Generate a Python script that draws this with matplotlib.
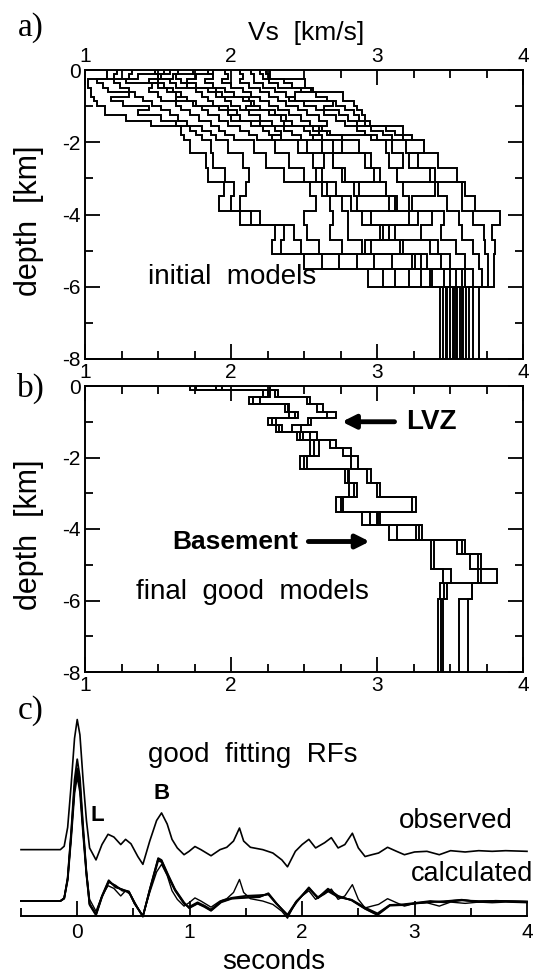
import numpy as np
import matplotlib
matplotlib.use("Agg")
import matplotlib.pyplot as plt
from matplotlib.ticker import MultipleLocator

plt.rcParams['font.family'] = ['Liberation Sans', 'DejaVu Sans']
plt.rcParams['axes.unicode_minus'] = False

# panel a: initial models, layer tops (km) shared by all models, last one = halfspace
depth_a = [0, 0.12, 0.25, 0.37, 0.5, 0.62, 0.75, 0.87, 1.0, 1.12, 1.25, 1.4, 1.55,
           1.7, 1.8, 1.95, 2.3, 2.7, 3.1, 3.5, 3.9, 4.3, 4.7, 5.1, 5.5, 6.0]
init_01 = [1.15, 1.15, 1.02, 1.02, 1.04, 1.04, 1.06, 1.08, 1.14, 1.14, 1.28, 1.45, 1.66, 1.66, 1.68, 1.72, 1.83, 1.84, 1.95, 1.92, 2.06, 2.30, 2.28, 2.50, 2.94, 3.43]
init_02 = [1.22, 1.20, 1.08, 1.12, 1.16, 1.30, 1.18, 1.26, 1.44, 1.36, 1.52, 1.62, 1.72, 1.76, 1.80, 1.86, 1.88, 1.96, 2.02, 2.00, 2.14, 2.36, 2.34, 2.62, 3.04, 3.45]
init_03 = [1.32, 1.30, 1.20, 1.24, 1.30, 1.34, 1.40, 1.46, 1.52, 1.58, 1.64, 1.70, 1.80, 1.86, 1.90, 1.98, 2.08, 2.12, 2.10, 2.06, 2.20, 2.43, 2.48, 2.74, 3.12, 3.47]
init_04 = [1.64, 1.60, 1.50, 1.46, 1.44, 1.50, 1.52, 1.62, 1.66, 1.72, 1.78, 1.86, 1.92, 1.96, 2.02, 2.16, 2.24, 2.36, 2.54, 2.58, 2.50, 2.52, 2.60, 2.86, 3.22, 3.48]
init_05 = [1.54, 1.52, 1.44, 1.50, 1.56, 1.62, 1.70, 1.76, 1.80, 1.84, 1.92, 1.98, 2.06, 2.12, 2.18, 2.30, 2.40, 2.50, 2.62, 2.68, 2.70, 2.68, 2.76, 2.98, 3.30, 3.50]
init_06 = [1.48, 1.50, 1.58, 1.62, 1.76, 1.80, 1.84, 1.88, 1.92, 1.98, 2.06, 2.14, 2.22, 2.26, 2.34, 2.46, 2.56, 2.62, 2.72, 2.76, 2.80, 2.80, 2.90, 3.10, 3.38, 3.52]
init_07 = [1.74, 1.76, 1.70, 1.76, 1.84, 1.90, 1.96, 2.00, 2.06, 2.12, 2.20, 2.28, 2.36, 2.42, 2.48, 2.62, 2.70, 2.76, 2.84, 2.86, 2.90, 3.08, 2.92, 3.26, 3.36, 3.54]
init_08 = [1.84, 1.88, 1.82, 1.88, 1.96, 2.02, 2.08, 2.14, 2.20, 2.26, 2.34, 2.42, 2.50, 2.54, 2.62, 2.76, 2.70, 2.78, 3.06, 3.14, 2.96, 3.08, 3.18, 3.30, 3.50, 3.55]
init_09 = [1.96, 1.98, 1.94, 2.00, 2.08, 2.14, 2.20, 2.26, 2.32, 2.40, 2.48, 2.54, 2.62, 2.68, 2.76, 2.88, 2.96, 3.02, 3.06, 3.08, 3.28, 3.02, 3.16, 3.34, 3.54, 3.57]
init_10 = [2.06, 2.08, 2.06, 2.12, 2.20, 2.26, 2.32, 2.38, 2.46, 2.52, 2.60, 2.66, 2.60, 2.66, 2.96, 3.06, 3.08, 3.14, 3.18, 3.22, 3.38, 3.30, 3.42, 3.50, 3.60, 3.59]
init_11 = [2.14, 2.16, 2.16, 2.22, 2.30, 2.38, 2.44, 2.50, 2.58, 2.64, 2.72, 2.78, 2.86, 2.92, 3.00, 3.10, 3.18, 3.14, 3.40, 3.24, 3.46, 3.44, 3.54, 3.60, 3.66, 3.61]
init_12 = [2.20, 2.22, 2.26, 2.32, 2.56, 2.44, 2.40, 2.70, 2.64, 2.74, 2.80, 2.86, 2.96, 3.04, 3.10, 3.20, 3.28, 3.36, 3.42, 3.48, 3.56, 3.58, 3.66, 3.70, 3.72, 3.63]
init_13 = [2.24, 2.26, 2.36, 2.42, 2.48, 2.58, 2.66, 2.72, 2.78, 2.84, 2.88, 2.92, 3.06, 3.12, 3.18, 3.32, 3.22, 3.40, 3.58, 3.58, 3.66, 3.73, 3.74, 3.76, 3.76, 3.66]
init_14 = [2.27, 2.27, 2.51, 2.51, 2.55, 2.77, 2.77, 2.84, 2.86, 2.90, 2.92, 2.95, 3.18, 3.18, 3.24, 3.32, 3.42, 3.55, 3.60, 3.67, 3.84, 3.79, 3.81, 3.80, 3.80, 3.70]
init_15 = [1.88, 1.62, 1.66, 1.70, 1.90, 1.94, 2.12, 2.16, 2.10, 2.30, 2.38, 2.36, 2.56, 2.60, 2.56, 2.70, 2.92, 2.98, 2.88, 3.12, 3.22, 3.12, 3.36, 3.44, 3.58, 3.58]
init_16 = [1.58, 1.36, 1.28, 1.54, 1.60, 1.66, 1.62, 1.74, 1.98, 2.04, 2.00, 2.20, 2.30, 2.34, 2.28, 2.52, 2.64, 2.58, 2.66, 2.82, 2.96, 3.04, 2.96, 3.24, 3.46, 3.53]

# panel b: final good models
depth_b = [0, 0.11, 0.3, 0.5, 0.72, 0.9, 1.09, 1.28, 1.51, 1.74, 1.95, 2.32, 2.71,
           3.1, 3.52, 3.88, 4.32, 4.7, 5.12, 5.5, 5.95]
final_a = [1.72, 2.22, 2.12, 2.37, 2.40, 2.25, 2.31, 2.45, 2.54, 2.54, 2.47, 2.78, 2.81, 2.72, 2.90, 3.08, 3.37, 3.37, 3.45, 3.43, 3.42]
final_b = [1.76, 2.25, 2.15, 2.39, 2.44, 2.28, 2.33, 2.47, 2.57, 2.57, 2.50, 2.80, 2.84, 2.75, 2.95, 3.14, 3.39, 3.39, 3.51, 3.46, 3.44]
final_c = [1.90, 2.27, 2.20, 2.40, 2.46, 2.31, 2.35, 2.49, 2.60, 2.60, 2.52, 2.81, 2.86, 2.77, 3.00, 3.27, 3.55, 3.64, 3.69, 3.48, 3.45]
final_d = [1.94, 2.30, 2.52, 2.59, 2.66, 2.53, 2.42, 2.54, 2.68, 2.77, 2.82, 2.93, 3.00, 3.24, 3.01, 3.29, 3.58, 3.69, 3.71, 3.65, 3.56]
final_e = [2.27, 2.32, 2.54, 2.63, 2.72, 2.55, 2.48, 2.59, 2.72, 2.82, 2.87, 2.96, 3.02, 3.27, 3.02, 3.31, 3.60, 3.71, 3.82, 3.65, 3.62]

# panel c: receiver functions (time in s, amplitude normalised to the direct P peak)
obs_t = [-0.5, -0.15, -0.116, -0.085, -0.055, -0.024, 0.0, 0.024, 0.052, 0.082, 0.11,
         0.167, 0.22, 0.274, 0.326, 0.387, 0.43, 0.478, 0.539, 0.584, 0.645, 0.706,
         0.75, 0.80, 0.843, 0.89, 0.95, 0.995, 1.047, 1.10, 1.19, 1.27, 1.33, 1.39,
         1.443, 1.48, 1.54, 1.65, 1.74, 1.82, 1.87, 1.94, 2.0, 2.06, 2.12, 2.2, 2.26,
         2.32, 2.38, 2.447, 2.5, 2.56, 2.62, 2.68, 2.76, 2.84, 2.91, 3.0, 3.11, 3.22,
         3.32, 3.45, 3.57, 3.69, 3.81, 4.0]
obs_a = [0, 0, 0.026, 0.171, 0.487, 0.855, 1.0, 0.882, 0.539, 0.224, 0.013,
         -0.079, 0.039, 0.118, 0.097, 0.039, 0.079, 0.045, -0.053, -0.113, 0.066, 0.224,
         0.282, 0.197, 0.079, 0.013, -0.039, -0.013, 0.024, 0.0, -0.047, 0.0, 0.018, 0.066,
         0.166, 0.066, 0.018, 0.0, -0.026, -0.079, -0.132, -0.013, 0.039, 0.079, 0.013, 0.053, 0.092,
         0.013, 0.039, 0.126, 0.013, -0.053, -0.039, -0.026, 0.018, -0.013, -0.039, -0.018, -0.013, -0.039,
         -0.008, -0.018, -0.008, -0.013, -0.008, -0.013]

calc_t = [-0.5, -0.15, -0.116, -0.085, -0.055, -0.024, 0.0, 0.024, 0.052, 0.082, 0.11,
          0.167, 0.22, 0.28, 0.34, 0.40, 0.46, 0.51, 0.584, 0.645, 0.72, 0.75, 0.81,
          0.87, 0.95, 0.995, 1.07, 1.13, 1.19, 1.28, 1.375, 1.5, 1.62, 1.7, 1.77, 1.87,
          1.95, 2.06, 2.14, 2.23, 2.32, 2.44, 2.56, 2.67, 2.78, 2.9, 3.0, 3.14, 3.26,
          3.42, 3.57, 3.72, 4.0]
calc_1 = [0, 0, 0.02, 0.18, 0.52, 0.93, 1.09, 0.95, 0.58, 0.22, -0.02,
          -0.103, 0.034, 0.153, 0.113, 0.087, 0.074, -0.018, -0.118, 0.087, 0.324, 0.31, 0.192,
          0.087, -0.018, -0.05, -0.018, -0.04, -0.071, -0.005, 0.021, 0.029, 0.034, 0.055, -0.018, -0.11,
          -0.005, 0.1, 0.021, 0.087, 0.034, 0.008, -0.058, -0.103, -0.032, -0.032, -0.018, -0.005, -0.005,
          0.008, -0.005, 0.0, -0.005]
calc_2 = [0, 0, 0.02, 0.16, 0.47, 0.83, 0.96, 0.84, 0.52, 0.20, -0.03,
          -0.11, 0.03, 0.145, 0.12, 0.08, 0.07, -0.02, -0.115, 0.08, 0.31, 0.30, 0.185,
          0.08, -0.02, -0.045, -0.01, -0.035, -0.065, 0.0, 0.025, 0.04, 0.045, 0.05, -0.02, -0.105,
          0.0, 0.095, 0.03, 0.075, 0.03, 0.01, -0.05, -0.095, -0.03, -0.025, -0.015, 0.0, -0.01,
          0.005, 0.0, 0.0, -0.005]
calc_3 = [0, 0, 0.02, 0.17, 0.5, 0.88, 1.02, 0.9, 0.55, 0.21, -0.025,
          -0.1, 0.04, 0.16, 0.105, 0.09, 0.068, -0.015, -0.12, 0.09, 0.33, 0.315, 0.2,
          0.09, -0.01, -0.055, -0.02, -0.045, -0.075, -0.01, 0.018, 0.025, 0.03, 0.06, -0.015, -0.112,
          -0.01, 0.105, 0.025, 0.095, 0.04, 0.005, -0.06, -0.108, -0.035, -0.03, -0.02, -0.008, -0.002,
          0.01, -0.008, 0.002, -0.005]

init_models = [init_01, init_02, init_03, init_04, init_05, init_06, init_07, init_08,
               init_09, init_10, init_11, init_12, init_13, init_14, init_15, init_16]
final_models = [final_a, final_b, final_c, final_d, final_e]
calc_traces = [calc_1, calc_2, calc_3]


def draw_model(ax, tops, vel, bottom=8.0):
    ys = np.append(np.repeat(tops, 2)[1:], bottom)
    xs = np.repeat(vel, 2)
    ax.plot(xs, -ys, color="black", lw=1.4, solid_joinstyle="miter")


def style_vs(ax, top_labels, bottom_labels):
    ax.set_xlim(1, 4)
    ax.set_ylim(-8, 0)
    ax.xaxis.set_major_locator(MultipleLocator(1))
    ax.xaxis.set_minor_locator(MultipleLocator(0.25))
    ax.yaxis.set_major_locator(MultipleLocator(2))
    ax.yaxis.set_minor_locator(MultipleLocator(1))
    ax.tick_params(which="both", direction="in", top=True, bottom=True, left=True,
                   right=True, width=1.3, labelsize=15, pad=3,
                   labeltop=top_labels, labelbottom=bottom_labels)
    ax.tick_params(which="major", length=11)
    ax.tick_params(which="minor", length=6)
    for s in ax.spines.values():
        s.set_linewidth(1.4)
    ax.set_ylabel("depth  [km]", fontsize=22)
    ax.yaxis.set_label_coords(-0.094, 0.48)


fig = plt.figure(figsize=(5.37, 9.77), dpi=100)
W, H = 537.0, 977.0
ax1 = fig.add_axes([85 / W, 1 - 359 / H, 438 / W, 289 / H])
ax2 = fig.add_axes([85 / W, 1 - 672 / H, 438 / W, 286 / H])
ax3 = fig.add_axes([21 / W, 1 - 916 / H, 506 / W, 216 / H])

# a)
for m in init_models:
    draw_model(ax1, depth_a, m)
style_vs(ax1, True, False)
ax1.text(2.01, -5.73, "initial  models", fontsize=20, ha="center", va="center")
fig.text(306 / W, 1 - 33 / H, "Vs  [km/s]", fontsize=19, ha="center", va="center")

# b)
for m in final_models:
    draw_model(ax2, depth_b, m)
style_vs(ax2, True, True)
ax2.text(2.15, -5.75, "final  good  models", fontsize=20, ha="center", va="center")
ax2.text(3.2, -1.02, "LVZ", fontsize=20, fontweight="bold", ha="left", va="center")
ax2.text(2.46, -4.35, "Basement", fontsize=19, fontweight="bold", ha="right", va="center")
arrow = dict(arrowstyle="-|>,head_length=0.8,head_width=0.4", lw=3.5, color="black",
             shrinkA=0, shrinkB=0)
ax2.annotate("", xy=(2.76, -1.0), xytext=(3.12, -1.0), arrowprops=arrow)
ax2.annotate("", xy=(2.95, -4.35), xytext=(2.53, -4.35), arrowprops=arrow)

# c)
off_obs, off_calc = 0.51, 0.115
ax3.plot(obs_t, np.array(obs_a) + off_obs, color="black", lw=1.2, clip_on=False)
for c in calc_traces:
    ax3.plot(calc_t, np.array(c) + off_calc, color="black", lw=1.3, clip_on=False)
ax3.plot(obs_t, np.array(obs_a) + off_calc, color="black", lw=1.0, clip_on=False)
ax3.set_xlim(-0.5, 4.0)
ax3.set_ylim(0, 1.66)
for side in ["left", "right", "top"]:
    ax3.spines[side].set_visible(False)
ax3.spines["bottom"].set_linewidth(1.4)
ax3.set_yticks([])
ax3.xaxis.set_major_locator(MultipleLocator(1))
ax3.xaxis.set_minor_locator(MultipleLocator(0.5))
ax3.tick_params(which="both", direction="in", width=1.3, labelsize=15, pad=5)
ax3.tick_params(which="major", length=11)
ax3.tick_params(which="minor", length=6)
ax3.text(1.56, 1.24, "good  fitting  RFs", fontsize=20, ha="center", va="center")
ax3.text(3.37, 0.73, "observed", fontsize=20, ha="center", va="center")
ax3.text(2.97, 0.32, "calculated", fontsize=19.5, ha="left", va="center", clip_on=False)
ax3.text(0.18, 0.77, "L", fontsize=16, fontweight="bold", ha="center", va="center")
ax3.text(0.75, 0.94, "B", fontsize=16, fontweight="bold", ha="center", va="center")
ax3.text(1.75, -0.355, "seconds", fontsize=20, ha="center", va="center", clip_on=False)

for lab, y in [("a)", 28), ("b)", 388), ("c)", 711)]:
    fig.text(31 / W, 1 - y / H, lab, fontsize=24, family="Liberation Serif",
             ha="center", va="center")

fig.savefig("out.png", dpi=100)
